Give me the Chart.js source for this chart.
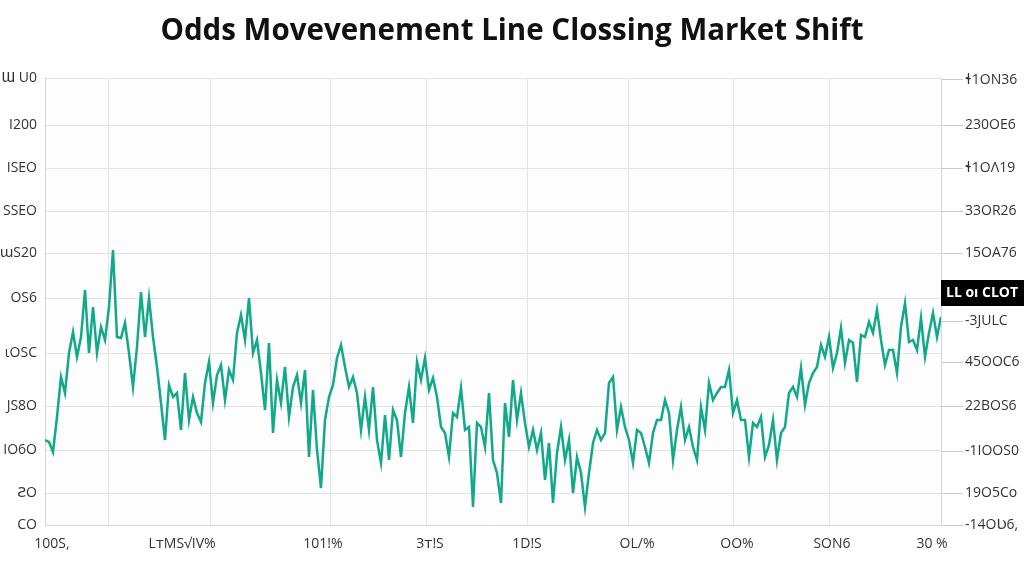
<!DOCTYPE html>
<html><head><meta charset="utf-8">
<script src="https://cdn.jsdelivr.net/npm/chart.js@4.4.1/dist/chart.umd.min.js"></script>
<style>html,body{margin:0;padding:0;background:#fff}#wrap{width:1024px;height:576px}</style>
</head><body><div id="wrap"><canvas id="c" width="1024" height="576"></canvas></div>
<script>
const titleText = "Odds Movevenement Line Clossing Market Shift";

// line values (axis units), one per step
const oddsValues = [
85,83,73,108,148,132,172,193,168,188,235,172,218,172,198,185,218,275,188,187,
202,172,138,178,233,188,227,188,158,122,85,140,128,132,95,152,105,128,112,103,
142,163,122,150,160,125,155,145,192,210,185,227,172,185,152,115,182,92,145,122,
158,108,138,150,122,155,68,135,75,37,105,128,140,167,180,158,138,148,132,95,
128,95,138,85,62,110,65,115,105,68,112,138,102,163,145,167,135,147,128,98,
92,68,112,108,137,95,98,18,102,98,78,132,65,52,22,122,88,145,105,132,
102,78,95,75,92,45,82,22,72,98,65,85,32,68,52,18,52,82,95,85,
92,142,148,95,118,98,85,62,95,92,78,62,92,105,105,125,112,65,95,118,
85,98,78,65,118,95,142,125,132,138,138,155,112,125,105,105,68,102,98,108,
68,80,105,65,92,98,132,138,128,157,120,142,152,158,180,168,188,157,172,197,
162,185,182,143,190,188,203,192,215,185,160,175,175,152,198,222,183,185,175,207,
168,192,212,188,208
];

const xGridValues = [15.75, 41.25, 71.25, 95.25, 120.5, 145.75, 172, 196];
const xLabelValues = [1.75, 34.25, 69.5, 96.25, 120.5, 148, 173, 196.75, 221.75];
const xTickLabels = ["100S,", "LᴛMS√IV%", "101!%", "3ᴛ!S", "1D!S", "OL/%", "OO%", "SON6", "30 %"];

const yLeftValues = [0, 32, 75, 119, 172, 227, 272, 314, 357, 400, 447];
const yLeftLabels = ["CO", "ƧO", "IO6O", "JS8O", "ιOSC", "OS6", "ɯS20", "SSEO", "ISEO", "I200", "Ɯ U0"];

const yRightValues = [0, 32, 74, 119, 163, 204, 272, 314, 357, 400, 445];
const yRightLabels = ["-14OƲ6,", "19O5Co", "-1IOOS0", "22BOS6", "45OOC6", "-3JULC", "15OA76", "33OR26", "ɬ1OΛ19", "230OE6", "ɬ1ON36"];

const closeTagValue = 232;
const closeTagLabel = "LL oı CLOT";

const FONT = "'Open Sans', 'DejaVu Sans', sans-serif";
const lineData = oddsValues.map((v, i) => ({x: i, y: v}));

const xTicksAll = [...new Set([...xGridValues, ...xLabelValues])].sort((a,b)=>a-b);

const bgPlugin = {
  id: 'bg',
  beforeDraw(chart) {
    const {ctx, chartArea: a} = chart;
    ctx.save(); ctx.fillStyle = '#fdfdfd';
    ctx.fillRect(a.left, a.top, a.right - a.left, a.bottom - a.top);
    ctx.restore();
  }
};
const tagPlugin = {
  id: 'tag',
  afterDraw(chart) {
    const {ctx, chartArea: a} = chart;
    const y = chart.scales.y2.getPixelForValue(closeTagValue);
    ctx.save();
    ctx.fillStyle = '#000';
    ctx.fillRect(a.right, y - 13, chart.width - a.right, 26);
    ctx.fillStyle = '#fff';
    ctx.font = "bold 14px " + FONT;
    ctx.textBaseline = 'middle';
    ctx.textAlign = 'left';
    ctx.fillText(closeTagLabel, a.right + 5, y);
    ctx.restore();
  }
};

new Chart(document.getElementById('c'), {
  type: 'line',
  data: { datasets: [{
    data: lineData,
    borderColor: '#12a88a',
    borderWidth: 2.5,
    pointRadius: 0,
    tension: 0,
    fill: false
  }]},
  plugins: [bgPlugin, tagPlugin],
  options: {
    responsive: false,
    animation: false,
    devicePixelRatio: 1,
    layout: { padding: 0 },
    plugins: {
      legend: { display: false },
      tooltip: { enabled: false },
      title: {
        display: true, text: titleText, color: '#111',
        font: { family: FONT, size: 29.5, weight: 'bold', lineHeight: 1.2 },
        padding: { top: 14, bottom: 28.6 }
      }
    },
    scales: {
      x: {
        type: 'linear', min: 0, max: oddsValues.length - 1,
        afterBuildTicks(s) { s.ticks = xTicksAll.map(v => ({value: v})); },
        afterFit(s) { s.height = 51; },
        grid: {
          drawTicks: false,
          color: (c) => (c.tick && xGridValues.includes(c.tick.value)) ? '#e4e4e4' : 'rgba(0,0,0,0)',
          lineWidth: 1
        },
        border: { display: true, color: '#d6d6d6' },
        ticks: {
          autoSkip: false, maxRotation: 0, padding: 11,
          color: '#333', font: { family: FONT, size: 14 },
          callback: (v) => { const k = xLabelValues.indexOf(v); return k >= 0 ? xTickLabels[k] : ''; }
        }
      },
      y: {
        type: 'linear', position: 'left', min: 0, max: 447,
        afterBuildTicks(s) { s.ticks = yLeftValues.map(v => ({value: v})); },
        afterFit(s) { s.width = 45; },
        grid: { drawTicks: false, color: '#e4e4e4' },
        border: { display: true, color: '#d6d6d6' },
        ticks: {
          padding: 8, color: '#333', font: { family: FONT, size: 14 },
          callback: (v) => { const k = yLeftValues.indexOf(v); return k >= 0 ? yLeftLabels[k] : ''; }
        }
      },
      y2: {
        type: 'linear', position: 'right', min: 0, max: 447,
        afterBuildTicks(s) { s.ticks = yRightValues.map(v => ({value: v})); },
        afterFit(s) { s.width = 83; },
        grid: { drawOnChartArea: false, drawTicks: true, tickLength: 22, color: '#c8c8c8' },
        border: { display: true, color: '#d6d6d6' },
        ticks: {
          padding: 2, color: '#333', font: { family: FONT, size: 14 },
          callback: (v) => { const k = yRightValues.indexOf(v); return k >= 0 ? yRightLabels[k] : ''; }
        }
      }
    }
  }
});
</script>
</body></html>
